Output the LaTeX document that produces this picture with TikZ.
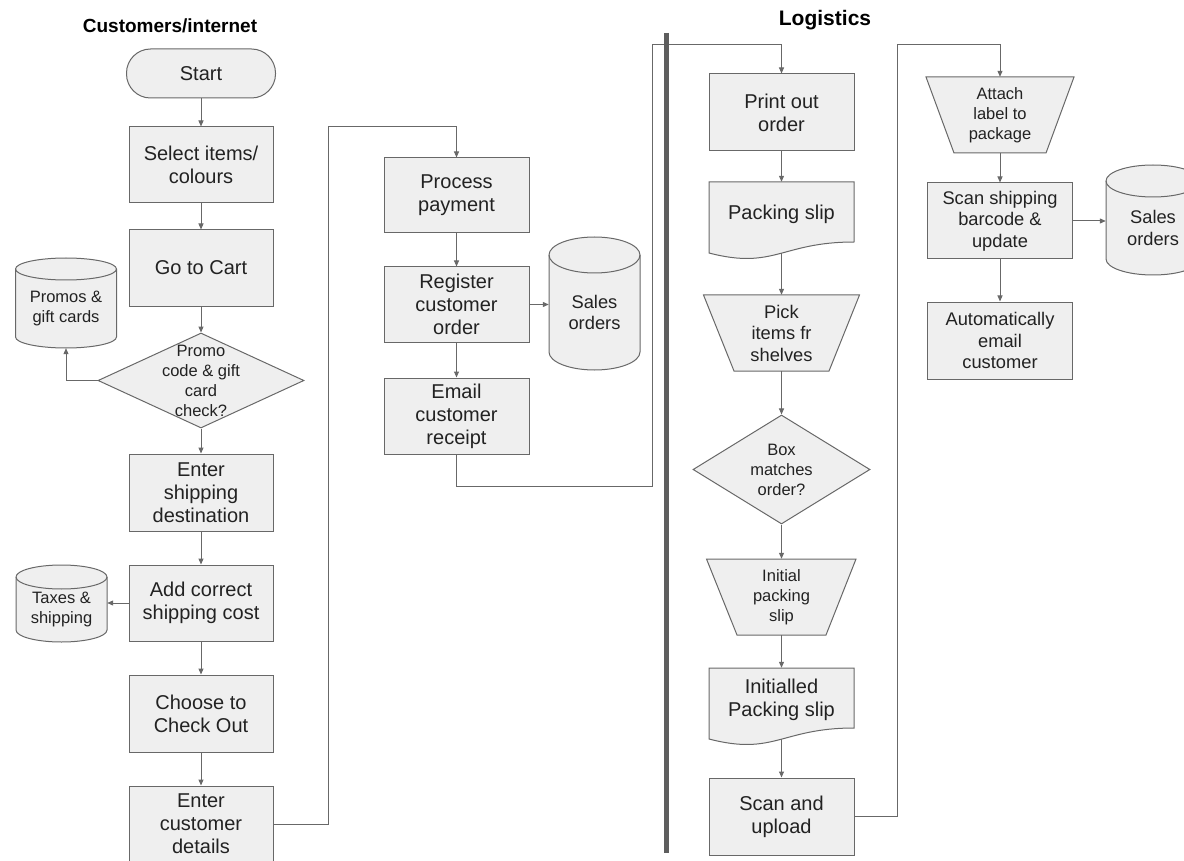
\documentclass[tikz,border=0pt]{standalone}
\usepackage{fontspec}
\setmainfont{Liberation Sans}
\usetikzlibrary{shapes.geometric,arrows.meta}
\definecolor{bd}{HTML}{686868}
\definecolor{fl}{HTML}{EFEFEF}
\definecolor{tx}{HTML}{222222}
\definecolor{sepc}{HTML}{5E5E5E}
\newcommand\fmain{\fontsize{20}{23}\selectfont}
\newcommand\fmed{\fontsize{18.3}{21.5}\selectfont}
\newcommand\fsmall{\fontsize{16.5}{20}\selectfont}
\tikzset{
 shp/.style={draw=bd, fill=fl, line width=1pt},
 proc/.style={shp, rectangle, inner sep=0pt, align=center, text=tx, font=\fmain},
 txt/.style={rectangle, inner sep=0pt, align=center, text=tx, font=\fmain},
 dia/.style={shp, diamond, inner sep=0pt},
 arr/.style={draw=bd, line width=1pt, -{Triangle[length=6pt,width=5pt]}},
 ttl/.style={inner sep=0pt, anchor=base, text=black}
}
% cylinder: name, cx, cy, w, h, ry, font, text
\newcommand\dbcyl[8]{%
 \pgfmathsetmacro\cyXa{#2-#4/2}%
 \pgfmathsetmacro\cyXb{#2+#4/2}%
 \pgfmathsetmacro\cyYa{#3-#5/2+#6}%
 \pgfmathsetmacro\cyYb{#3+#5/2-#6}%
 \pgfmathsetmacro\cyKx{0.5523*#4/2}%
 \pgfmathsetmacro\cyKy{0.5523*#6}%
 \pgfmathsetmacro\cyYt{#3+#6/2}%
 \pgfmathsetmacro\cyH{#5-#6}%
 \draw[shp] (\cyXa,\cyYa) -- (\cyXa,\cyYb) .. controls (\cyXa,\cyYb+\cyKy) and (#2-\cyKx,\cyYb+#6) .. (#2,\cyYb+#6) .. controls (#2+\cyKx,\cyYb+#6) and (\cyXb,\cyYb+\cyKy) .. (\cyXb,\cyYb) -- (\cyXb,\cyYa) .. controls (\cyXb,\cyYa-\cyKy) and (#2+\cyKx,\cyYa-#6) .. (#2,\cyYa-#6) .. controls (#2-\cyKx,\cyYa-#6) and (\cyXa,\cyYa-\cyKy) .. (\cyXa,\cyYa) -- cycle;
 \draw[shp, fill=none] (\cyXa,\cyYa) .. controls (\cyXa,\cyYa+\cyKy) and (#2-\cyKx,\cyYa+#6) .. (#2,\cyYa+#6) .. controls (#2+\cyKx,\cyYa+#6) and (\cyXb,\cyYa+\cyKy) .. (\cyXb,\cyYa);
 \node[txt, font=#7, minimum width=#4pt, minimum height=\cyH pt] (#1) at (#2,\cyYt) {#8};
}
% document shape: name, x1, x2, top, text
\newcommand\docshape[5]{%
 \pgfmathsetmacro\dsW{#3-#2}%
 \pgfmathsetmacro\dsC{(#2+#3)/2}%
 \draw[shp] (#2,#4) -- (#3,#4) -- (#3,#4+60) .. controls (#2+0.5*\dsW,#4+60) and (#2+0.45*\dsW,#4+88) .. (#2,#4+71) -- cycle;
 \node[txt, minimum width=\dsW pt, minimum height=64pt] (#1) at (\dsC,#4+32) {#5};
}
\begin{document}
\begin{tikzpicture}[x=1pt,y=-1pt]
\useasboundingbox (0,0) rectangle (1184,861);
\clip (0,0) rectangle (1184,861);

% titles
\node[ttl, font=\bfseries\fontsize{19}{22}\selectfont] (t1) at (170,33) {Customers/internet};
\node[ttl, font=\bfseries\fontsize{21}{24}\selectfont] (t2) at (825,26) {Logistics};

% left column
\node[proc, rounded corners=24pt, minimum width=149pt, minimum height=49pt] (start) at (201,73.5) {Start};
\node[proc, minimum width=144pt, minimum height=76pt] (sel) at (201,165) {Select items/\\colours};
\node[proc, minimum width=144pt, minimum height=76pt] (cart) at (201,268) {Go to Cart};
\dbcyl{promo}{66}{303}{101}{90}{11}{\fsmall}{Promos \&\\gift cards}
\node[dia, minimum width=206pt, minimum height=95pt] (d1) at (201,380.5) {};
\node[txt, font=\fsmall] (d1t) at (d1) {Promo\\code \& gift\\card\\check?};
\node[proc, minimum width=144pt, minimum height=77pt] (es) at (201,492.5) {Enter\\shipping\\destination};
\node[proc, minimum width=144pt, minimum height=76pt] (add) at (201,603) {Add correct\\shipping cost};
\dbcyl{tax}{61.5}{603.5}{91}{77}{12}{\fsmall}{Taxes \&\\shipping}
\node[proc, minimum width=144pt, minimum height=77pt] (chk) at (201,713.5) {Choose to\\Check Out};
\node[proc, minimum width=144pt, minimum height=76pt] (ecd) at (201,824) {Enter\\customer\\details};

% middle column
\node[proc, minimum width=145pt, minimum height=75pt] (pay) at (456.5,195.5) {Process\\payment};
\node[proc, minimum width=145pt, minimum height=75pt] (reg) at (456.5,304.5) {Register\\customer\\order};
\dbcyl{sales1}{594.5}{303.5}{91}{133}{18}{\fmed}{Sales\\orders}
\node[proc, minimum width=145pt, minimum height=76pt] (mail) at (456.5,416) {Email\\customer\\receipt};

% logistics column
\node[proc, minimum width=145pt, minimum height=77pt] (print) at (781.5,112.5) {Print out\\order};
\docshape{ps}{709}{854}{182}{Packing slip}
\draw[shp] (703.5,295) -- (859.5,295) -- (829,371) -- (734,371) -- cycle;
\node[txt, font=\fmed, minimum width=156pt, minimum height=76pt] (pick) at (781.5,333) {Pick\\items fr\\shelves};
\node[dia, minimum width=177pt, minimum height=109pt] (d2) at (781.5,469.5) {};
\node[txt, font=\fsmall] (d2t) at (d2) {Box\\matches\\order?};
\draw[shp] (706.5,559) -- (856,559) -- (826,635) -- (737,635) -- cycle;
\node[txt, font=\fsmall, minimum width=149pt, minimum height=76pt] (init) at (781.5,597) {Initial\\packing\\slip};
\docshape{ips}{709}{854}{668}{Initialled\\Packing slip}
\node[proc, minimum width=145pt, minimum height=77pt] (scan) at (781.5,816.5) {Scan and\\upload};

% right column
\draw[shp] (926,77) -- (1074,77) -- (1046,153) -- (954,153) -- cycle;
\node[txt, font=\fsmall, minimum width=148pt, minimum height=76pt] (attach) at (1000,115) {Attach\\label to\\package};
\node[proc, font=\fmed, minimum width=145pt, minimum height=76pt] (ship) at (1000,221) {Scan shipping\\barcode \&\\update};
\dbcyl{sales2}{1153}{220}{94}{110}{16}{\fmed}{Sales\\orders}
\node[proc, font=\fmed, minimum width=145pt, minimum height=77pt] (auto) at (1000,340.5) {Automatically\\email\\customer};

% helper coordinates for routed connectors
\coordinate (c1) at (328,127);
\coordinate (c2) at (652,486);
\coordinate (c3) at (652,45);
\coordinate (c4) at (897,45);

% connectors
\draw[arr] (start) -- (sel);
\draw[arr] (sel) -- (cart);
\draw[arr] (cart) -- (d1);
\draw[arr] (d1.west) -| (promo.south);
\draw[arr] (d1) -- (es);
\draw[arr] (es) -- (add);
\draw[arr] (add.west) -- (add.west -| tax.east);
\draw[arr] (add) -- (chk);
\draw[arr] (chk) -- (ecd);
\draw[arr] (ecd.east) -| (c1) -| (pay.north);
\draw[arr] (pay) -- (reg);
\draw[arr] (reg.east) -- (reg.east -| sales1.west);
\draw[arr] (reg) -- (mail);
\draw[arr] (mail.south) |- (c2) -- (c3) -| (print.north);
\draw[arr] (print) -- (ps);
\draw[arr] ([yshift=-7pt]ps.south) -- (pick.north);
\draw[arr] (pick) -- (d2);
\draw[arr] (d2) -- (init);
\draw[arr] (init) -- (ips);
\draw[arr] ([yshift=-7pt]ips.south) -- (scan.north);
\draw[arr] (scan.east) -| (c4) -| (attach.north);
\draw[arr] (attach) -- (ship);
\draw[arr] (ship.east) -- (ship.east -| sales2.west);
\draw[arr] (ship) -- (auto);

% lane separator
\coordinate (s1) at (666,33);
\coordinate (s2) at (666,853);
\draw[draw=sepc, line width=5pt] (s1) -- (s2);
\end{tikzpicture}
\end{document}
